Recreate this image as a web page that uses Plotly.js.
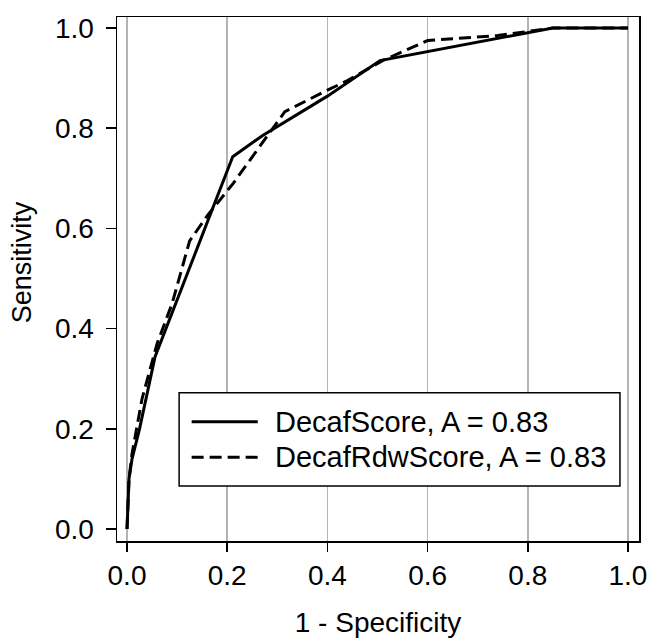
<!DOCTYPE html>
<html>
<head>
<meta charset="utf-8">
<script src="https://cdn.plot.ly/plotly-3.0.1.min.js"></script>
<style>html,body{margin:0;padding:0;background:#fff;}#chart{width:649px;height:639px;}</style>
</head>
<body>
<div id="chart"></div>
<script>
// DecafScore ROC curve (1 - specificity, sensitivity)
const decafFpr  = [0, 0.004, 0.01, 0.025, 0.056, 0.211, 0.27, 0.40, 0.505, 0.85, 1.0];
const decafTpr  = [0, 0.10, 0.14, 0.20, 0.344, 0.743, 0.785, 0.864, 0.935, 1.0, 1.0];
// DecafRdwScore ROC curve
const rdwFpr = [0, 0.004, 0.01, 0.03, 0.06, 0.09, 0.125, 0.16, 0.212, 0.28, 0.315, 0.40, 0.44, 0.51, 0.60, 0.74, 0.85, 1.0];
const rdwTpr = [0, 0.10, 0.15, 0.26, 0.37, 0.45, 0.575, 0.625, 0.69, 0.785, 0.833, 0.876, 0.895, 0.935, 0.975, 0.985, 1.0, 1.0];
const seriesNames = ["DecafScore, A = 0.83", "DecafRdwScore, A = 0.83"];
const tickVals = [0, 0.2, 0.4, 0.6, 0.8, 1.0];
const tickText = ["0.0", "0.2", "0.4", "0.6", "0.8", "1.0"];
const xTitle = "1 - Specificity";
const yTitle = "Sensitivity";

const font = "Liberation Sans, Arial, sans-serif";
const traces = [
  {x: decafFpr, y: decafTpr, mode: "lines", name: seriesNames[0],
   line: {color: "#000", width: 3}},
  {x: rdwFpr, y: rdwTpr, mode: "lines", name: seriesNames[1],
   line: {color: "#000", width: 3, dash: "12px,6px"}}
];

// manual legend (box + samples) in data coordinates
const lgX0 = 0.104, lgX1 = 0.984, lgY0 = 0.086, lgY1 = 0.272;
const rowY = [0.214, 0.143];
const shapes = [
  {type: "rect", xref: "x", yref: "y", x0: lgX0, x1: lgX1, y0: lgY0, y1: lgY1,
   line: {color: "#000", width: 1.5}, fillcolor: "#fff", layer: "above"},
  {type: "line", xref: "x", yref: "y", x0: 0.129, x1: 0.261, y0: rowY[0], y1: rowY[0],
   line: {color: "#000", width: 3}, layer: "above"},
  {type: "line", xref: "x", yref: "y", x0: 0.129, x1: 0.261, y0: rowY[1], y1: rowY[1],
   line: {color: "#000", width: 3, dash: "12px,6px"}, layer: "above"}
];
const annotations = seriesNames.map((t, i) => ({
  xref: "x", yref: "y", x: 0.292, y: rowY[i], text: t, showarrow: false,
  xanchor: "left", yanchor: "middle", font: {family: font, size: 29, color: "#000"}
}));
annotations.push({
  xref: "paper", yref: "paper", x: -0.182, y: 0.532, text: yTitle, showarrow: false,
  textangle: -90, xanchor: "center", yanchor: "middle",
  font: {family: font, size: 27, color: "#000"}
});

const layout = {
  width: 649, height: 639,
  margin: {l: 117, r: 10, t: 17, b: 98},
  paper_bgcolor: "#fff", plot_bgcolor: "#fff",
  showlegend: false,
  font: {family: font, size: 28, color: "#000"},
  xaxis: {
    range: [-0.02, 1.022], tickvals: tickVals, ticktext: tickText,
    showgrid: true, gridcolor: "#b4b4b4", gridwidth: 1.5,
    zeroline: false, showline: true, linecolor: "#000", linewidth: 1.5, mirror: true,
    ticks: "outside", ticklen: 9, tickwidth: 1.5, tickcolor: "#000",
    tickfont: {family: font, size: 28, color: "#000"},
    title: {text: xTitle, font: {family: font, size: 28, color: "#000"}, standoff: 22}
  },
  yaxis: {
    range: [-0.024, 1.022], tickvals: tickVals, ticktext: tickText,
    showgrid: false,
    zeroline: false, showline: true, linecolor: "#000", linewidth: 1.5, mirror: true,
    ticks: "outside", ticklen: 10, tickwidth: 1.5, tickcolor: "#000",
    ticklabelstandoff: 6,
    tickfont: {family: font, size: 28, color: "#000"}
  },
  shapes: shapes,
  annotations: annotations
};

Plotly.newPlot("chart", traces, layout, {displayModeBar: false, staticPlot: true});
</script>
</body>
</html>
